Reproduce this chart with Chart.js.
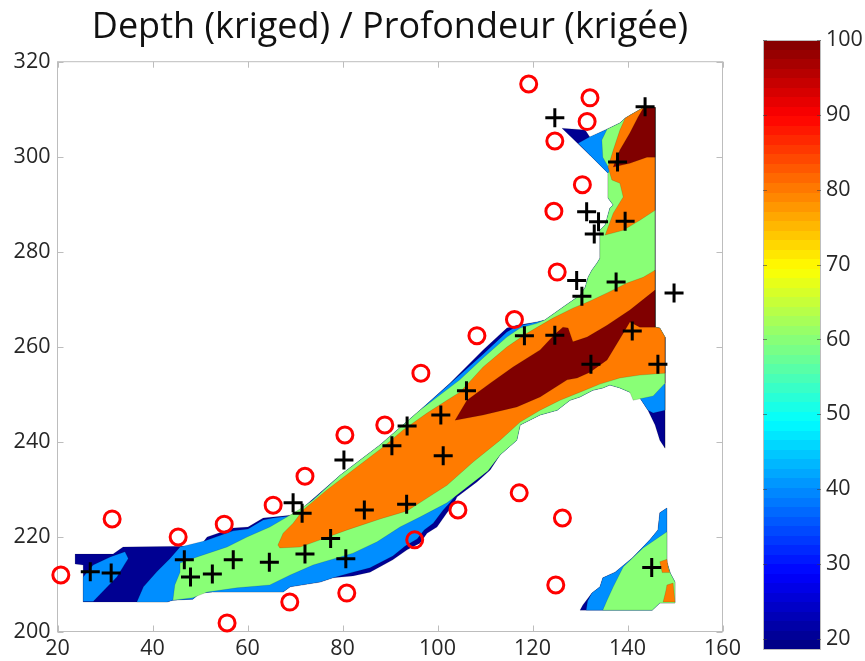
<!DOCTYPE html>
<html>
<head>
<meta charset="utf-8">
<script src="https://cdn.jsdelivr.net/npm/chart.js@4.4.1/dist/chart.umd.min.js"></script>
<style>
  html, body { margin: 0; padding: 0; background: #fff; }
  #wrap { position: relative; width: 865px; height: 661px; overflow: hidden; }
  #main { position: absolute; left: 0; top: 0; }
  #bar { position: absolute; left: 740px; top: 0; }
</style>
</head>
<body>
<div id="wrap">
  <canvas id="main" width="865" height="661"></canvas>
  <canvas id="bar" width="125" height="661"></canvas>
</div>
<script>
// Axis ticks
const xTicks = [20, 40, 60, 80, 100, 120, 140, 160];
const yTicks = [200, 220, 240, 260, 280, 300, 320];
const colorTicks = [20, 30, 40, 50, 60, 70, 80, 90, 100];
const colorRange = [18.5, 100];

// Stations (x, y)
const circleStations = [
  [20.7, 211.9], [31.5, 223.7], [45.4, 219.9], [55.1, 222.6], [55.7, 201.8],
  [65.4, 226.6], [72.1, 232.7], [68.9, 206.2], [80.5, 241.4], [80.9, 208.1],
  [88.9, 243.5], [95.2, 219.3], [96.5, 254.4], [104.3, 225.6], [108.3, 262.3],
  [116.2, 265.7], [117.2, 229.2], [119.2, 315.3], [126.3, 223.9], [124.9, 209.8],
  [124.7, 303.3], [124.5, 288.5], [125.2, 275.7], [131.5, 307.4], [132.1, 312.4],
  [130.5, 294.1]
];
const crossStations = [
  [26.9, 212.6], [31.3, 212.3], [46.7, 215.1], [48.0, 211.5], [52.6, 212.1],
  [57.0, 215.1], [64.6, 214.6], [69.6, 227.1], [71.5, 224.9], [72.1, 216.3],
  [77.5, 219.6], [80.3, 236.1], [80.7, 215.3], [84.6, 225.6], [90.4, 239.1],
  [93.5, 226.8], [93.6, 243.3], [100.7, 245.6], [101.2, 237.0], [106.1, 250.7],
  [118.3, 262.3], [124.7, 262.4], [132.3, 256.3], [141.0, 263.3], [146.4, 256.3],
  [129.3, 273.9], [130.4, 270.6], [137.6, 273.6], [149.8, 271.3], [131.4, 288.4],
  [133.9, 286.3], [133.0, 283.7], [139.5, 286.4], [137.9, 298.9], [124.7, 308.2],
  [143.7, 310.5], [145.1, 213.5]
];

// Filled contour regions: each outline encloses depth >= its level
const zone20Main = [[23.7,216.3],[31.7,216.3],[33.8,217.8],[50.0,218.0],[51.5,219.9],[57.0,221.8],[60.1,222.0],[63.3,223.9],[65.4,224.1],[69.0,224.5],[71.1,225.6],[79.5,232.9],[87.9,239.3],[96.3,246.6],[102.6,252.3],[109.6,259.3],[114.6,263.9],[116.7,264.5],[121.0,265.2],[122.6,265.6],[126.4,268.3],[130.0,270.8],[131.1,272.5],[131.7,274.6],[132.5,276.1],[133.6,277.6],[134.2,278.6],[134.2,284.5],[135.3,285.6],[136.3,289.2],[137.0,289.8],[135.9,291.3],[135.9,296.5],[132.1,300.3],[126.2,306.0],[131.1,305.6],[132.1,304.1],[135.7,305.8],[138.4,307.1],[139.5,308.1],[140.5,308.7],[143.1,310.2],[145.8,310.4],[145.8,264.1],[146.8,263.9],[147.9,262.0],[147.9,238.6],[146.8,240.3],[145.8,243.5],[144.3,246.6],[142.6,249.2],[140.5,250.4],[138.4,251.3],[136.3,251.9],[134.8,251.3],[132.7,250.8],[130.0,249.4],[127.9,248.7],[125.2,246.6],[121.6,245.6],[117.4,243.5],[116.7,240.3],[113.2,237.2],[111.1,234.0],[108.3,231.5],[104.1,228.3],[103.3,226.6],[102.0,225.0],[99.9,222.0],[97.8,220.7],[96.3,218.6],[93.6,217.2],[90.6,215.1],[85.8,212.5],[82.2,211.7],[78.0,211.3],[75.3,210.4],[69.0,209.4],[67.5,208.3],[52.7,208.3],[50.0,208.1],[48.5,206.8],[44.3,206.6],[43.1,206.2],[25.4,206.2],[25.4,214.0],[23.7,214.2]];
const zone20East = [[130.0,204.5],[145.2,204.5],[146.8,206.0],[150.0,206.0],[150.0,210.4],[149.0,212.3],[148.3,214.6],[148.3,226.0],[146.8,225.0],[146.4,221.4],[144.7,219.3],[141.0,215.5],[137.4,212.5],[134.8,211.3],[134.2,209.4],[132.5,208.1],[130.6,205.6]];

const zone40West = [[25.4,211.5],[27.5,214.0],[31.1,215.7],[34.2,216.8],[34.9,215.4],[32.5,211.5],[27.5,206.3],[25.4,206.3]];
const zone40Main = [[36.7,206.2],[38.1,209.4],[40.9,212.6],[43.7,215.4],[45.8,217.8],[51.1,219.1],[57.0,221.2],[60.1,221.6],[63.3,223.5],[65.4,223.9],[69.0,224.3],[71.1,225.4],[79.5,232.9],[87.9,239.3],[96.3,246.6],[101.6,251.3],[109.6,258.4],[114.6,263.1],[116.7,264.3],[121.0,265.2],[122.6,265.6],[126.4,268.3],[130.0,270.8],[131.1,272.5],[131.7,274.6],[132.5,276.1],[133.6,277.6],[134.2,278.6],[134.2,284.5],[135.3,285.6],[136.3,289.2],[137.0,289.8],[135.9,291.3],[135.9,296.5],[132.1,300.3],[129.6,302.8],[131.9,304.1],[135.7,305.8],[138.4,307.1],[139.5,308.1],[140.5,308.7],[143.1,310.2],[145.8,310.4],[145.8,264.1],[146.8,263.9],[147.9,262.0],[147.9,246.6],[145.4,246.0],[144.3,246.6],[142.6,249.2],[140.5,250.4],[138.4,251.3],[136.3,251.9],[134.8,251.3],[132.7,250.8],[130.0,249.4],[127.9,248.7],[125.2,246.6],[121.6,245.6],[117.4,243.5],[116.7,240.3],[113.2,237.2],[111.1,234.6],[108.3,232.1],[104.1,229.0],[102.6,227.1],[101.2,225.6],[99.1,222.8],[97.2,221.4],[95.7,219.5],[93.2,218.0],[90.6,215.9],[85.8,213.4],[82.2,212.5],[78.0,211.3],[75.3,210.4],[69.0,209.4],[67.5,208.3],[52.7,208.3],[50.0,208.1],[48.5,206.8],[44.3,206.6],[43.1,206.2]];
const zone40East = [[131.3,204.5],[145.2,204.5],[146.8,206.0],[150.0,206.0],[150.0,210.4],[149.0,212.3],[148.3,214.6],[148.3,226.0],[146.8,225.0],[146.4,221.4],[144.7,219.3],[141.0,215.5],[137.4,212.5],[134.8,211.3],[134.2,209.4],[132.5,208.1],[131.6,206.4]];

const zone60Main = [[44.3,206.6],[44.7,209.8],[45.8,212.5],[45.8,214.4],[49.4,215.7],[55.7,217.8],[59.9,219.9],[64.7,222.0],[68.3,224.1],[71.7,226.2],[73.8,227.7],[79.5,232.9],[87.9,239.3],[96.3,246.6],[100.5,249.8],[104.7,253.0],[109.6,257.6],[114.6,262.0],[117.4,263.9],[121.0,264.9],[122.6,265.6],[126.4,268.3],[130.0,270.8],[131.1,272.5],[131.7,274.6],[132.5,276.1],[133.6,277.6],[134.2,278.6],[134.2,284.5],[135.3,285.6],[136.3,289.2],[137.0,289.8],[135.9,291.3],[135.9,296.5],[136.3,297.2],[134.8,299.9],[134.6,303.5],[135.7,305.8],[138.4,307.1],[139.5,308.1],[140.5,308.7],[143.1,310.2],[145.8,310.4],[145.8,264.1],[146.8,263.9],[147.9,262.0],[147.9,252.3],[145.4,249.6],[141.2,248.7],[140.5,250.4],[138.4,251.3],[136.3,251.9],[134.8,251.3],[132.7,250.8],[130.0,249.4],[127.9,248.7],[125.2,246.6],[121.6,245.6],[117.4,243.5],[116.7,240.3],[113.2,237.2],[110.6,233.8],[106.2,230.4],[102.0,227.1],[96.3,224.1],[92.1,222.0],[87.3,218.9],[82.2,216.5],[78.8,215.5],[73.8,214.0],[69.0,211.9],[64.7,209.8],[57.8,209.2],[51.5,208.3],[48.5,207.1]];
const zone60East = [[148.3,221.0],[143.3,217.6],[139.1,213.6],[137.0,209.4],[135.7,206.6],[134.8,204.5],[145.2,204.5],[146.8,206.0],[150.0,206.0],[150.0,210.4],[149.0,212.3],[148.3,214.6]];

const zone80Main = [[66.4,218.2],[67.5,220.7],[69.6,222.8],[71.7,225.6],[76.7,229.8],[82.2,234.0],[88.5,238.8],[92.7,242.4],[97.8,246.0],[102.0,248.7],[104.7,250.4],[107.5,253.4],[109.6,255.7],[114.6,259.9],[118.8,262.8],[124.3,266.0],[128.5,268.1],[132.1,269.6],[135.7,271.3],[139.9,273.4],[143.3,274.6],[145.8,276.1],[145.8,264.1],[146.8,263.9],[147.9,262.0],[147.9,254.4],[142.6,254.0],[138.4,253.4],[134.2,252.1],[130.0,250.4],[125.8,248.7],[121.6,246.6],[117.4,244.1],[113.2,240.3],[107.5,235.7],[102.0,230.8],[97.8,228.1],[93.6,225.4],[87.9,223.7],[81.0,221.4],[75.3,219.3],[71.1,217.8],[66.8,217.6]];
const zone80North = [[139.5,308.1],[140.5,308.7],[143.1,310.2],[145.8,310.4],[145.8,288.7],[142.6,286.6],[139.1,284.5],[135.3,283.5],[137.0,288.1],[139.1,291.5],[138.4,294.4],[136.7,295.1],[135.9,297.8],[137.0,301.4],[138.4,305.6]];
const zone80EastA = [[146.8,214.7],[148.3,215.2],[148.6,213.3],[148.9,212.4],[147.3,212.4]];
const zone80EastB = [[148.3,209.8],[149.6,210.2],[150.0,206.2],[147.5,206.2],[148.1,208.7]];

const zone100Main = [[103.7,244.5],[106.2,248.7],[111.1,252.3],[115.9,255.7],[121.6,259.3],[124.7,262.6],[126.4,264.1],[127.5,263.9],[128.5,261.0],[131.5,262.0],[135.7,264.5],[140.5,267.7],[145.8,271.9],[145.8,264.1],[142.6,264.1],[140.5,265.2],[139.1,262.8],[135.7,257.2],[132.1,254.6],[129.4,253.4],[127.3,253.0],[121.6,249.4],[116.7,247.3],[109.6,245.6]];
const zone100North = [[142.2,308.3],[143.3,310.2],[145.8,310.4],[145.8,299.9],[144.1,299.9],[140.5,298.6],[137.0,297.8],[138.4,301.4],[140.5,305.0]];

const zones = [
  [20, zone20Main], [20, zone20East],
  [40, zone40West], [40, zone40Main], [40, zone40East],
  [60, zone60Main], [60, zone60East],
  [80, zone80Main], [80, zone80North], [80, zone80EastA], [80, zone80EastB],
  [100, zone100Main], [100, zone100North]
];

// Jet colormap over the colour range
function jetRGB(v) {
  const t = (v - colorRange[0]) / (colorRange[1] - colorRange[0]);
  const c = k => Math.round(255 * Math.max(0, Math.min(1, 1.5 - Math.abs(4 * t - k))));
  return [c(3), c(2), c(1)];
}
const jet = v => 'rgb(' + jetRGB(v).join(',') + ')';

const FONT = '"Open Sans", "DejaVu Sans", sans-serif';
const TEXT = '#262626';
const FRAME = '#bdbdbd';
const TICK_SIZE = 21.5;

const toXY = pts => pts.concat([pts[0]]).map(([x, y]) => ({ x, y }));

const zoneSets = zones.map(([level, pts]) => ({
  type: 'line',
  data: toXY(pts),
  showLine: true,
  fill: 'shape',
  tension: 0,
  backgroundColor: jet(level),
  borderColor: 'rgba(0,0,0,0.22)',
  borderWidth: 0.6,
  pointRadius: 0,
  order: 200 - level
}));

const tickSetter = list => scale => { scale.ticks = list.map(v => ({ value: v })); };

// Box with inward tick marks on all four sides
const axesFrame = {
  id: 'axesFrame',
  beforeDatasetsDraw(chart) {
    const { ctx, chartArea: a, scales: { x, y } } = chart;
    ctx.save();
    ctx.strokeStyle = FRAME;
    ctx.lineWidth = 1;
    ctx.strokeRect(a.left, a.top, a.right - a.left, a.bottom - a.top);
    ctx.beginPath();
    x.ticks.forEach(t => {
      const p = Math.round(x.getPixelForValue(t.value)) + 0.5;
      ctx.moveTo(p, a.bottom); ctx.lineTo(p, a.bottom - 6);
      ctx.moveTo(p, a.top); ctx.lineTo(p, a.top + 6);
    });
    y.ticks.forEach(t => {
      const p = Math.round(y.getPixelForValue(t.value)) + 0.5;
      ctx.moveTo(a.left, p); ctx.lineTo(a.left + 6, p);
      ctx.moveTo(a.right, p); ctx.lineTo(a.right - 6, p);
    });
    ctx.stroke();
    ctx.restore();
  }
};

new Chart(document.getElementById('main'), {
  type: 'scatter',
  data: {
    datasets: [
      {
        type: 'scatter',
        data: crossStations.map(([x, y]) => ({ x, y })),
        pointStyle: 'cross',
        pointRadius: 9.5,
        pointBorderColor: '#000',
        pointBorderWidth: 3,
        clip: false,
        order: -2
      },
      {
        type: 'scatter',
        data: circleStations.map(([x, y]) => ({ x, y })),
        pointStyle: 'circle',
        pointRadius: 8,
        pointBorderColor: '#ff0000',
        pointBackgroundColor: 'rgba(0,0,0,0)',
        pointBorderWidth: 3,
        clip: false,
        order: -1
      },
      ...zoneSets
    ]
  },
  options: {
    responsive: false,
    animation: false,
    events: [],
    layout: { padding: { left: 0, right: 142.5, top: 0, bottom: 0 } },
    plugins: {
      legend: { display: false },
      tooltip: { enabled: false },
      title: {
        display: true,
        text: 'Depth (kriged) / Profondeur (krigée)',
        fullSize: false,
        color: '#111',
        font: { family: FONT, size: 36, weight: 'normal', lineHeight: 1.2 },
        padding: { top: 6, bottom: 12.5 }
      }
    },
    scales: {
      x: {
        type: 'linear',
        min: xTicks[0],
        max: xTicks[xTicks.length - 1],
        afterBuildTicks: tickSetter(xTicks),
        afterFit: s => { s.height = 29.5; },
        grid: { display: false, drawTicks: false },
        border: { display: false },
        ticks: { color: TEXT, padding: 4, font: { family: FONT, size: TICK_SIZE }, maxRotation: 0 }
      },
      y: {
        type: 'linear',
        min: yTicks[0],
        max: yTicks[yTicks.length - 1],
        afterBuildTicks: tickSetter(yTicks),
        afterFit: s => { s.width = 57.5; },
        grid: { display: false, drawTicks: false },
        border: { display: false },
        ticks: { color: TEXT, padding: 7, font: { family: FONT, size: TICK_SIZE } }
      }
    }
  },
  plugins: [axesFrame]
});

// Colour bar
const barFrame = {
  id: 'barFrame',
  afterDatasetsDraw(chart) {
    const { ctx, chartArea: a, scales: { y } } = chart;
    ctx.save();
    ctx.strokeStyle = FRAME;
    ctx.lineWidth = 1;
    ctx.strokeRect(a.left + 0.5, a.top + 0.5, a.right - a.left - 1, a.bottom - a.top - 1);
    ctx.strokeStyle = 'rgba(60,60,60,0.55)';
    ctx.beginPath();
    y.ticks.forEach(t => {
      const p = Math.round(y.getPixelForValue(t.value)) + 0.5;
      ctx.moveTo(a.left, p); ctx.lineTo(a.left + 4, p);
      ctx.moveTo(a.right, p); ctx.lineTo(a.right - 4, p);
    });
    ctx.stroke();
    ctx.restore();
  }
};

new Chart(document.getElementById('bar'), {
  type: 'bar',
  data: {
    labels: ['depth'],
    datasets: [{
      data: [colorRange],
      barPercentage: 1,
      categoryPercentage: 1,
      borderWidth: 0,
      backgroundColor(context) {
        const chart = context.chart;
        const ys = chart.scales.y;
        if (!ys || !chart.chartArea) return 'rgba(0,0,0,0)';
        const y0 = ys.getPixelForValue(colorRange[0]);
        const y1 = ys.getPixelForValue(colorRange[1]);
        const g = chart.ctx.createLinearGradient(0, y0, 0, y1);
        const n = 64;
        for (let i = 0; i < n; i++) {
          const v = colorRange[0] + (i + 0.5) / n * (colorRange[1] - colorRange[0]);
          g.addColorStop(i / n, jet(v));
          g.addColorStop((i + 1) / n, jet(v));
        }
        return g;
      }
    }]
  },
  options: {
    responsive: false,
    animation: false,
    events: [],
    layout: { padding: { left: 23, right: 0, top: 40, bottom: 11 } },
    plugins: { legend: { display: false }, tooltip: { enabled: false } },
    scales: {
      x: { display: false },
      y: {
        position: 'right',
        min: colorRange[0],
        max: colorRange[1],
        afterBuildTicks: tickSetter(colorTicks),
        afterFit: s => { s.width = 44; s.paddingTop = 0; s.paddingBottom = 0; },
        grid: { display: false, drawTicks: false },
        border: { display: false },
        ticks: { color: TEXT, padding: 5, font: { family: FONT, size: TICK_SIZE } }
      }
    }
  },
  plugins: [barFrame]
});
</script>
</body>
</html>
